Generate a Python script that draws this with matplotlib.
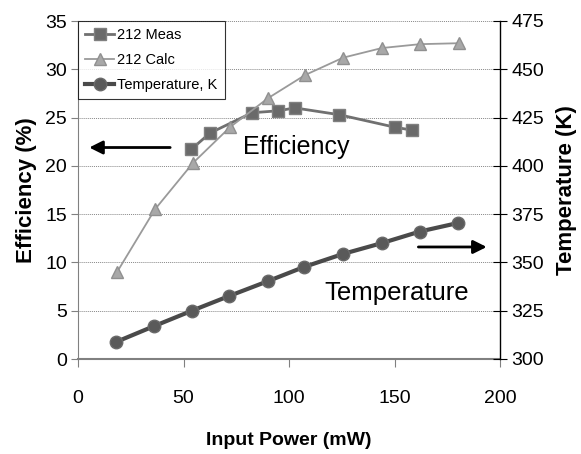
import matplotlib
matplotlib.use("Agg")
import matplotlib.pyplot as plt

plt.rcParams['font.family'] = ['Liberation Sans', 'DejaVu Sans']

meas_x = [53.6, 62.6, 82.5, 94.8, 102.8, 123.7, 150.2, 158.3]
meas_eff = [21.7, 23.4, 25.5, 25.7, 26.0, 25.3, 24.0, 23.7]

calc_x = [18.5, 36.5, 54.5, 72.0, 90.0, 107.6, 125.6, 144.0, 162.0, 180.6]
calc_eff = [9.0, 15.5, 20.3, 24.0, 27.0, 29.4, 31.2, 32.2, 32.6, 32.7]

temp_x = [18.0, 36.0, 54.0, 71.6, 90.0, 107.0, 125.6, 144.0, 162.0, 180.0]
temp_k = [308.8, 317.0, 325.0, 332.6, 340.3, 347.6, 354.4, 360.0, 366.0, 370.4]

x_ticks = [0, 50, 100, 150, 200]
eff_ticks = [0, 5, 10, 15, 20, 25, 30, 35]
temp_ticks = [300, 325, 350, 375, 400, 425, 450, 475]

fig = plt.figure(figsize=(5.81, 4.54), dpi=100)
ax = fig.add_axes([78/581, 1-359/454, (500-78)/581, (359-21)/454])
ax2 = ax.twinx()

ax.set_xlim(0, 200)
ax.set_ylim(0, 35)
ax2.set_ylim(300, 475)
ax.set_xticks(x_ticks)
ax.set_yticks(eff_ticks)
ax2.set_yticks(temp_ticks)

ax.grid(axis='y', linestyle=(0, (1, 1)), color='#888888', linewidth=0.7)
ax.set_axisbelow(True)

l1, = ax.plot(meas_x, meas_eff, color='#707070', linewidth=2.0, marker='s',
              markersize=8, markerfacecolor='#6a6a6a', markeredgecolor='#808080',
              label='212 Meas')
l2, = ax.plot(calc_x, calc_eff, color='#9a9a9a', linewidth=1.3, marker='^',
              markersize=8, markerfacecolor='#a8a8a8', markeredgecolor='#909090',
              label='212 Calc')
l3, = ax2.plot(temp_x, temp_k, color='#4a4a4a', linewidth=3.0, marker='o',
               markersize=9, markerfacecolor='#5a5a5a', markeredgecolor='#6a6a6a',
               label='Temperature, K')

ax.spines['top'].set_visible(False)
ax2.spines['top'].set_visible(False)
ax.spines['left'].set_color('#808080')
ax.spines['bottom'].set_color('#808080')
ax.spines['bottom'].set_linewidth(1.5)
ax.spines['right'].set_visible(False)
ax2.spines['left'].set_visible(False)
ax2.spines['bottom'].set_visible(False)
ax2.spines['right'].set_color('black')
ax2.spines['right'].set_linewidth(1.0)

ax.tick_params(axis='x', direction='out', length=6, color='#808080', labelsize=14, pad=16)
ax.tick_params(axis='y', direction='out', length=5, color='#808080', labelsize=14, pad=3)
ax2.tick_params(axis='y', direction='inout', length=10, color='black', labelsize=14, pad=3)

ax.set_xlabel('Input Power (mW)', fontsize=14, fontweight='bold', labelpad=18)
ax.set_ylabel('Efficiency (%)', fontsize=16, fontweight='bold', labelpad=6)
ax2.set_ylabel('Temperature (K)', fontsize=16, fontweight='bold', labelpad=9)

leg = ax.legend(handles=[l1, l2, l3], loc='upper left', bbox_to_anchor=(0, 1),
                fontsize=10.5, frameon=True, fancybox=False,
                edgecolor='black', borderaxespad=0, handlelength=2.0,
                handletextpad=0.2, borderpad=0.5, labelspacing=0.75)
leg.get_frame().set_linewidth(0.8)
leg.set_zorder(5)

ax.annotate('', xy=(4, 21.9), xytext=(45, 21.9),
            arrowprops=dict(arrowstyle='-|>', color='black', lw=2.0,
                            mutation_scale=20))
ax.annotate('', xy=(195, 11.6), xytext=(160, 11.6),
            arrowprops=dict(arrowstyle='-|>', color='black', lw=2.0,
                            mutation_scale=20))
ax.text(78, 22.0, 'Efficiency', fontsize=18, ha='left', va='center')
ax.text(117, 6.8, 'Temperature', fontsize=18.5, ha='left', va='center')

fig.savefig('out.png', dpi=100)
